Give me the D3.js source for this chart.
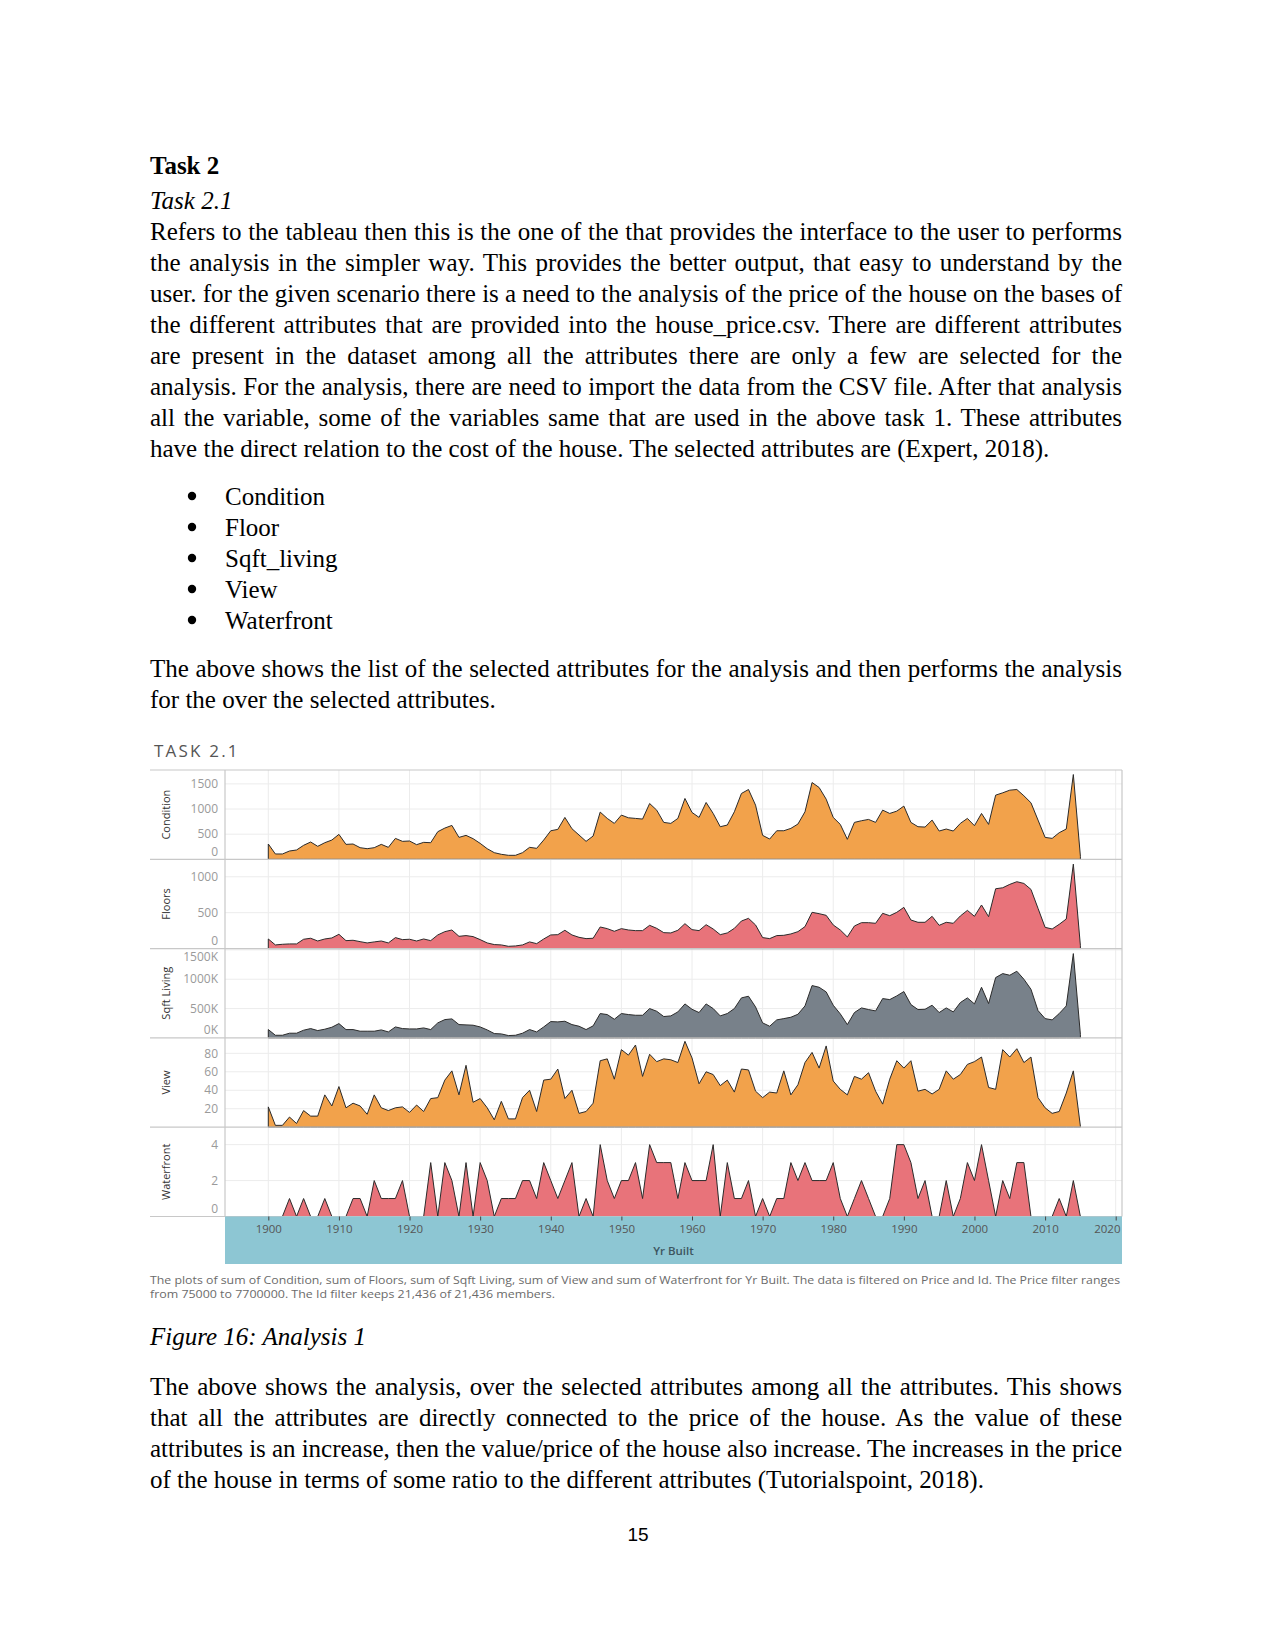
<!DOCTYPE html>
<html><head><meta charset="utf-8">
<script src="https://cdn.jsdelivr.net/npm/d3@7"></script>
<style>
body{margin:0;background:#fff;}
#page{position:relative;width:1275px;height:1651px;overflow:hidden;background:#fff;}
.ln{position:absolute;font-family:'Liberation Serif','Times New Roman',serif;font-size:25px;line-height:31px;white-space:nowrap;color:#000;}
svg{position:absolute;left:0;top:0;}
</style></head>
<body><div id="page"></div>
<script>
// ---------------- data ----------------
const years = d3.range(1900, 2016);
const condition = [304,106,106,165,185,278,344,258,330,383,496,297,304,231,211,231,297,238,416,357,
 364,291,337,330,549,621,674,436,476,410,317,211,132,99,79,79,132,238,218,383,
 568,595,833,608,483,357,463,939,813,714,879,826,813,800,1110,978,734,714,813,1210,
 932,833,1130,912,648,681,945,1309,1388,1077,476,403,568,568,615,701,945,1527,1428,1196,
 833,694,397,734,767,793,734,978,912,958,1058,734,648,641,780,562,602,562,714,813,
 668,912,694,1276,1322,1375,1388,1263,1124,780,436,416,529,602,1686,60];
const floors = [134,51,60,65,65,130,144,106,134,148,199,111,116,97,79,93,106,79,153,125,
 130,106,134,111,190,236,259,171,181,167,125,79,56,51,32,37,51,93,69,134,
 190,194,255,190,157,139,144,301,278,241,278,259,250,250,324,282,222,218,255,347,
 264,250,333,273,194,218,282,384,421,329,153,139,181,185,204,236,306,505,486,463,
 329,259,162,315,361,361,352,491,458,505,574,398,366,366,449,324,366,352,454,532,
 449,607,444,833,847,894,931,907,824,560,296,273,338,412,1176,40];
const sqftLivingK = [142,45,45,80,80,131,159,125,148,182,244,142,142,114,114,114,136,102,187,159,
 153,153,170,142,256,312,324,227,222,216,187,136,74,68,40,45,80,142,102,187,
 278,273,284,227,199,142,205,415,398,318,415,398,386,386,500,454,364,375,443,579,
 488,432,579,500,375,415,500,682,710,528,256,199,307,329,352,403,545,892,863,784,
 557,409,227,432,511,483,460,670,653,716,790,568,483,488,557,432,511,443,602,682,
 579,863,585,1028,1096,1068,1136,1000,829,466,329,307,415,545,1437,60];
const view = [22,2,2,11,4,18,12,12,35,23,44,21,26,23,14,35,21,18,21,22,
 16,24,17,31,32,51,61,35,67,27,31,21,8,28,9,9,32,40,17,51,
 52,63,31,40,15,17,26,72,74,52,84,78,89,55,79,71,74,73,70,93,
 75,47,60,57,45,51,38,63,62,39,32,38,37,61,35,46,70,81,64,88,
 50,41,35,55,52,59,39,25,52,72,64,72,39,41,36,41,61,52,57,68,
 71,76,43,41,84,76,85,70,76,32,21,15,17,37,61,1];
const waterfront = [0,0,0,1,0,1,0,0,1,0,0,0,1,1,0,2,1,1,1,2,
 0,0,0,3,0,3,2,0,3,0,3,2,0,1,1,1,2,2,1,3,
 2,1,2,3,0,1,0,4,2,1,2,2,3,1,4,3,3,3,1,3,
 2,2,2,4,0,3,1,1,2,0,1,0,1,1,3,2,3,2,2,2,
 3,1,0,1,2,1,0,0,1,4,4,3,1,2,0,0,2,0,1,3,
 2,4,2,0,2,1,3,3,0,0,0,0,1,0,2,0];
const decadeTicks = [1900,1910,1920,1930,1940,1950,1960,1970,1980,1990,2000,2010,2020];
const conditionTicks = [0,500,1000,1500];
const floorsTicks = [0,500,1000];
const sqftTicks = [0,500,1000,1500];
const viewTicks = [20,40,60,80];
const waterfrontTicks = [0,2,4];

// ---------------- document text ----------------
const page = d3.select('#page');
const para1 = [
 "Refers to the tableau then this is the one of the that provides the interface to the user to performs",
 "the analysis in the simpler way. This provides the better output, that easy to understand by the",
 "user. for the given scenario there is a need to the analysis of the price of the house on the bases of",
 "the different attributes that are provided into the house_price.csv. There are different attributes",
 "are present in the dataset among all the attributes there are only a few are selected for the",
 "analysis. For the analysis, there are need to import the data from the CSV file. After that analysis",
 "all the variable, some of the variables same that are used in the above task 1. These attributes",
 "have the direct relation to the cost of the house. The selected attributes are (Expert, 2018)."];
const bullets = ["Condition","Floor","Sqft_living","View","Waterfront"];
const para2 = [
 "The above shows the list of the selected attributes for the analysis and then performs the analysis",
 "for the over the selected attributes."];
const para3 = [
 "The above shows the analysis, over the selected attributes among all the attributes. This shows",
 "that all the attributes are directly connected to the price of the house. As the value of these",
 "attributes is an increase, then the value/price of the house also increase. The increases in the price",
 "of the house in terms of some ratio to the different attributes (Tutorialspoint, 2018)."];

const LEFT = 150, TEXTW = 972;
function line(txt, baseline, opts={}) {
  const d = page.append('div').attr('class','ln')
    .style('left', (opts.left||LEFT)+'px').style('top', (baseline-24)+'px')
    .style('font-weight', opts.bold?'bold':'normal')
    .style('font-style', opts.italic?'italic':'normal')
    .text(txt);
  if (opts.justify) {
    const w = d.node().getBoundingClientRect().width;
    const n = (txt.match(/ /g)||[]).length;
    if (n>0) d.style('word-spacing', ((TEXTW - w)/n)+'px');
  }
  return d;
}
line("Task 2", 173.5, {bold:true});
line("Task 2.1", 209, {italic:true});
para1.forEach((t,i)=> line(t, 240 + i*30.95, {justify: i < para1.length-1}));
const bulletY = [];
bullets.forEach((t,i)=>{
  const b = 504.5 + i*31;
  line(t, b, {left:225});
  bulletY.push(b);
});
para2.forEach((t,i)=> line(t, 677 + i*30.95, {justify: i < para2.length-1}));
line("Figure 16: Analysis 1", 1344.5, {italic:true});
para3.forEach((t,i)=> line(t, 1395 + i*30.95, {justify: i < para3.length-1}));
page.append('div').style('position','absolute').style('left','618px').style('width','40px')
  .style('top','1524px').style('text-align','center')
  .style('font-family',"'Liberation Sans',Arial,sans-serif").style('font-size','19px').text('15');

// ---------------- chart ----------------
const svg = page.append('svg').attr('width',1275).attr('height',1651);
// bullet glyphs
svg.selectAll('circle.bul').data(bulletY).join('circle').attr('class','bul')
  .attr('cx',192).attr('cy',d=>d-8.5).attr('r',4.2).attr('fill','#000');

const FONT = "'Open Sans','Noto Sans',sans-serif";
const X0 = 150, XA = 225, X1 = 1122, TOP = 770, PH = 89.3;
const x = d3.scaleLinear().domain([1900, 2020]).range([268.3, 1115.7]);

svg.append('text').attr('x',154).attr('y',757).attr('font-family',FONT).attr('font-size',17)
  .attr('letter-spacing',2.2).attr('fill','#555').text('TASK 2.1');

const panels = [
 {name:'Condition', values:condition, max:1776, ticks:conditionTicks, fmt:d=>String(d), color:'#F2A24B'},
 {name:'Floors', values:floors, max:1243, ticks:floorsTicks, fmt:d=>String(d), color:'#E8737A'},
 {name:'Sqft Living', values:sqftLivingK, max:1522, ticks:sqftTicks, fmt:d=>d+'K', color:'#78818A'},
 {name:'View', values:view, max:96.7, ticks:viewTicks, fmt:d=>String(d), color:'#F2A24B'},
 {name:'Waterfront', values:waterfront, max:4.97, ticks:waterfrontTicks, fmt:d=>String(d), color:'#E8737A'}
];

const gGrid = svg.append('g'), gArea = svg.append('g'), gFrame = svg.append('g'), gLab = svg.append('g');

decadeTicks.forEach(t=>{
  gGrid.append('line').attr('x1',x(t)).attr('x2',x(t)).attr('y1',TOP).attr('y2',TOP+5*PH)
    .attr('stroke','#ececec').attr('stroke-width',1);
});

panels.forEach((p,i)=>{
  const top = TOP + i*PH, bot = top + PH;
  const y = d3.scaleLinear().domain([0,p.max]).range([bot, top]);
  p.ticks.forEach(t=>{
    if (t>0) gGrid.append('line').attr('x1',XA).attr('x2',X1).attr('y1',y(t)).attr('y2',y(t))
      .attr('stroke','#ececec').attr('stroke-width',1);
    const ly = Math.max(top+8, Math.min(bot-8, y(t)));
    gLab.append('text').attr('x',218).attr('y',ly).attr('dy','0.35em').attr('text-anchor','end')
      .attr('font-family',FONT).attr('font-size',12).attr('fill','#9a9a9a').text(p.fmt(t));
  });
  const area = d3.area().x((d,j)=>x(years[j])).y0(bot).y1(d=>y(d));
  gArea.append('path').datum(p.values).attr('d',area).attr('fill',p.color)
    .attr('stroke','#2b2b2b').attr('stroke-width',1).attr('stroke-linejoin','round');
  gLab.append('text').attr('transform',`translate(170,${top+PH/2}) rotate(-90)`)
    .attr('text-anchor','middle').attr('font-family',FONT).attr('font-size',11).attr('fill','#333')
    .text(p.name);
  gFrame.append('line').attr('x1',X0).attr('x2',X1).attr('y1',bot).attr('y2',bot)
    .attr('stroke','#c8c8c8').attr('stroke-width',1.2);
});
gFrame.append('line').attr('x1',X0).attr('x2',X1).attr('y1',TOP).attr('y2',TOP).attr('stroke','#c8c8c8').attr('stroke-width',1.2);
gFrame.append('line').attr('x1',XA).attr('x2',XA).attr('y1',TOP).attr('y2',TOP+5*PH).attr('stroke','#c8c8c8').attr('stroke-width',1.2);
gFrame.append('line').attr('x1',X1).attr('x2',X1).attr('y1',TOP).attr('y2',TOP+5*PH).attr('stroke','#c8c8c8').attr('stroke-width',1.2);

// x axis band
const bandTop = TOP + 5*PH;
svg.append('rect').attr('x',XA).attr('y',bandTop).attr('width',X1-XA).attr('height',47.5).attr('fill','#8DC6D3');
const xAxis = d3.axisBottom(x).tickValues(decadeTicks).tickFormat(d3.format('d')).tickSize(4).tickPadding(4);
const ax = svg.append('g').attr('transform',`translate(0,${bandTop})`).call(xAxis);
ax.select('.domain').remove();
ax.selectAll('line').attr('stroke','#444');
ax.selectAll('text').attr('font-family',FONT).attr('font-size',11.5).attr('fill','#555');
// keep the last label inside the band
ax.selectAll('.tick').filter(d=>d===2020).select('text').attr('text-anchor','end').attr('x',X1-2-x(2020));
svg.append('text').attr('x',(XA+X1)/2).attr('y',1255).attr('text-anchor','middle')
  .attr('font-family',FONT).attr('font-size',11.5).attr('font-weight',600).attr('fill','#3d5560').text('Yr Built');

// caption
const cap1 = "The plots of sum of Condition, sum of Floors, sum of Sqft Living, sum of View and sum of Waterfront for Yr Built. The data is filtered on Price and Id. The Price filter ranges";
const cap2 = "from 75000 to 7700000. The Id filter keeps 21,436 of 21,436 members.";
svg.append('text').attr('x',150).attr('y',1284).attr('font-family',FONT).attr('font-size',10.5).attr('fill','#6b6b6b')
  .attr('textLength',970).attr('lengthAdjust','spacingAndGlyphs').text(cap1);
svg.append('text').attr('x',150).attr('y',1298).attr('font-family',FONT).attr('font-size',10.5).attr('fill','#6b6b6b')
  .attr('textLength',405).attr('lengthAdjust','spacingAndGlyphs').text(cap2);
</script></body></html>
